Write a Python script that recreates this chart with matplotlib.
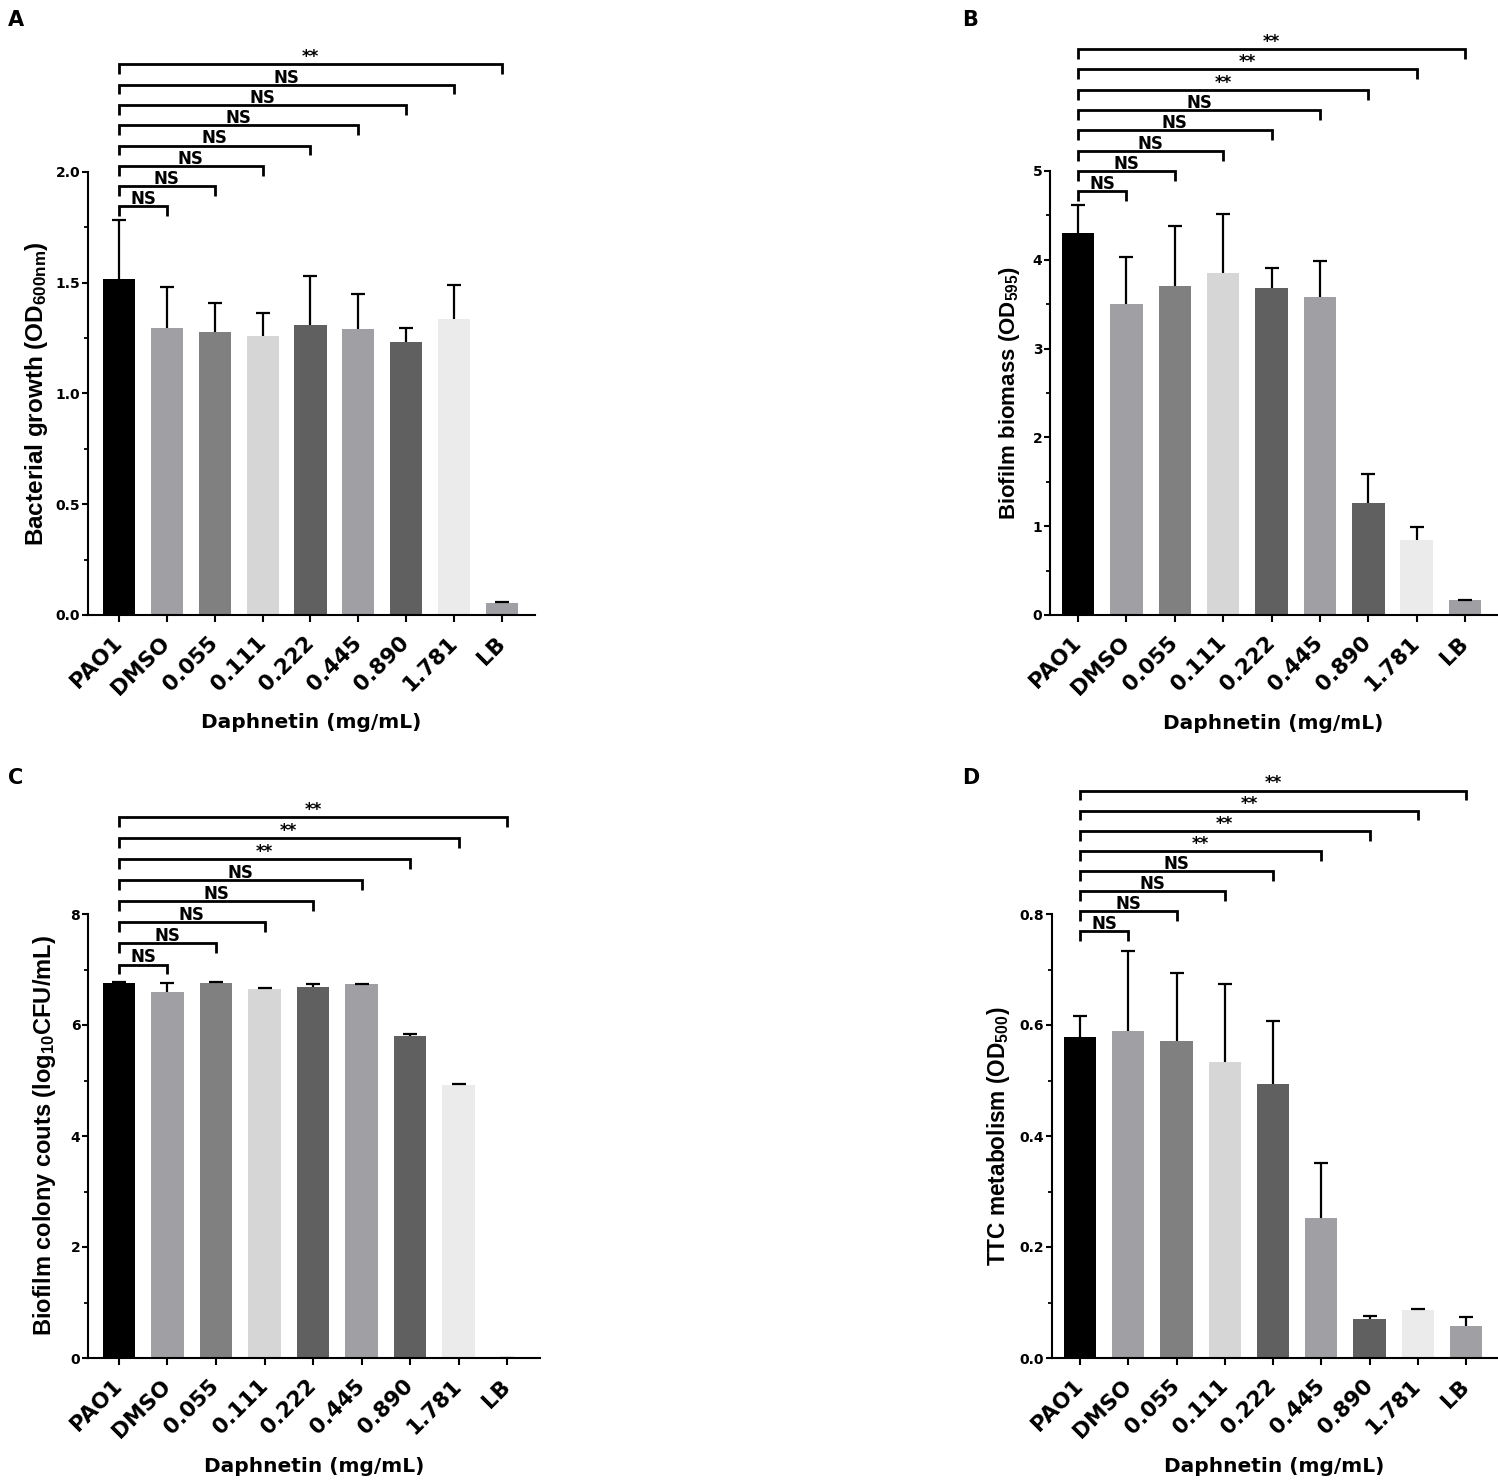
import matplotlib
matplotlib.use("Agg")
import matplotlib.pyplot as plt
from matplotlib.ticker import MultipleLocator, FormatStrFormatter

# categories shared by all four panels
groups = ["PAO1", "DMSO", "0.055", "0.111", "0.222", "0.445", "0.890", "1.781", "LB"]
bar_colors = ["#000000", "#a0a0a4", "#808080", "#d6d6d6", "#606060",
              "#a0a0a4", "#606060", "#ebebeb", "#a0a0a4"]

# A - bacterial growth
growth_mean = [1.518, 1.297, 1.278, 1.258, 1.310, 1.290, 1.233, 1.338, 0.056]
growth_sd = [0.265, 0.184, 0.130, 0.107, 0.221, 0.159, 0.062, 0.150, 0.002]
growth_sig = ["NS", "NS", "NS", "NS", "NS", "NS", "NS", "**"]

# B - biofilm biomass
biomass_mean = [4.303, 3.505, 3.707, 3.846, 3.686, 3.580, 1.261, 0.846, 0.165]
biomass_sd = [0.309, 0.532, 0.671, 0.665, 0.218, 0.404, 0.329, 0.149, 0.005]
biomass_sig = ["NS", "NS", "NS", "NS", "NS", "**", "**", "**"]

# C - biofilm colony counts
colony_mean = [6.763, 6.589, 6.763, 6.647, 6.689, 6.739, 5.809, 4.913, 0.0]
colony_sd = [0.005, 0.166, 0.010, 0.025, 0.041, 0.008, 0.033, 0.016, 0.0]
colony_sig = ["NS", "NS", "NS", "NS", "NS", "**", "**", "**"]

# D - TTC metabolism
ttc_mean = [0.579, 0.590, 0.572, 0.533, 0.493, 0.253, 0.071, 0.086, 0.057]
ttc_sd = [0.037, 0.143, 0.122, 0.140, 0.115, 0.099, 0.004, 0.003, 0.017]
ttc_sig = ["NS", "NS", "NS", "NS", "**", "**", "**", "**"]

W, H = 1498, 1484
BOLD = ["DejaVu Sans"]
LABEL_FONT = ["Liberation Sans", "DejaVu Sans"]

plt.rcParams["font.family"] = BOLD
plt.rcParams["font.weight"] = "bold"
plt.rcParams["mathtext.fontset"] = "custom"
plt.rcParams["mathtext.bf"] = "Liberation Sans:bold"
plt.rcParams["mathtext.rm"] = "Liberation Sans:bold"
plt.rcParams["mathtext.default"] = "bf"

fig = plt.figure(figsize=(W / 100, H / 100), dpi=100)


def px_axes(left, right, bottom, top):
    # axes rectangle given in pixel coordinates of the reference
    return fig.add_axes([left / W, 1 - bottom / H, (right - left) / W, (bottom - top) / H])


def draw_panel(ax, means, sds, sig, ymax, major, minor, fmt, xlim,
               ylabel, ylabel_size, ylabel_x, br_base, br_step):
    x = list(range(len(groups)))
    ax.bar(x, means, width=0.67, color=bar_colors, zorder=2)
    lower = [0] * len(sds)
    eb = ax.errorbar(x, means, yerr=[lower, sds], fmt="none", ecolor="black",
                     elinewidth=1.6, capsize=5, capthick=1.6, zorder=3)
    # only the upper cap is drawn (one-sided SD)
    eb[1][0].set_visible(False)

    ax.set_xlim(*xlim)
    ax.set_ylim(0, ymax)
    ax.yaxis.set_major_locator(MultipleLocator(major))
    ax.yaxis.set_minor_locator(MultipleLocator(minor))
    ax.yaxis.set_major_formatter(FormatStrFormatter(fmt))
    ax.set_xticks(x)
    ax.set_xticklabels(groups, rotation=45, ha="right", va="center",
                       rotation_mode="anchor", fontsize=15.5, fontweight="bold")
    for lab in ax.get_yticklabels():
        lab.set_fontsize(10)
        lab.set_fontweight("bold")

    for side in ["top", "right"]:
        ax.spines[side].set_visible(False)
    for side in ["left", "bottom"]:
        ax.spines[side].set_linewidth(1.5)
    ax.tick_params(axis="y", which="major", length=4, width=1.5, pad=1.5)
    ax.tick_params(axis="y", which="minor", length=3, width=1.3)
    ax.tick_params(axis="x", which="major", length=5, width=1.5, pad=13)

    ax.set_xlabel("Daphnetin (mg/mL)", fontsize=14.5, fontweight="bold")
    ax.xaxis.set_label_coords(0.5, -0.222)
    ax.set_ylabel(ylabel, fontsize=ylabel_size, fontweight="bold", family=LABEL_FONT)
    ax.yaxis.set_label_coords(ylabel_x, 0.5)

    # significance brackets, all starting at PAO1
    tick = ymax * 0.022
    for i, lab in enumerate(sig):
        j = i + 1
        y = br_base + i * br_step
        ax.plot([0, 0, j, j], [y - tick, y, y, y - tick], color="black", lw=2.0,
                clip_on=False, solid_joinstyle="miter", solid_capstyle="butt", zorder=4)
        ax.annotate(lab, xy=(j / 2, y), xytext=(0, 1.5), textcoords="offset points",
                    ha="center", va="baseline", fontsize=12, fontweight="bold",
                    annotation_clip=False)


axA = px_axes(88, 535, 615, 172)
draw_panel(axA, growth_mean, growth_sd, growth_sig, 2.0, 0.5, 0.25, "%.1f",
           (-0.648, 8.69), "Bacterial growth (OD$_{600nm}$)", 17.5, -0.085, 1.845, 0.0915)

axB = px_axes(1050, 1497, 615, 171)
draw_panel(axB, biomass_mean, biomass_sd, biomass_sig, 5, 1, 0.5, "%d",
           (-0.579, 8.66), "Biofilm biomass (OD$_{595}$)", 16, -0.063, 4.77, 0.229)

axC = px_axes(88, 540, 1358, 914)
draw_panel(axC, colony_mean, colony_sd, colony_sig, 8, 2, 1, "%d",
           (-0.639, 8.68), "Biofilm colony couts (log$_{10}$CFU/mL)", 17, -0.066, 7.09, 0.38)

axD = px_axes(1052, 1497, 1358, 914)
draw_panel(axD, ttc_mean, ttc_sd, ttc_sig, 0.8, 0.2, 0.1, "%.1f",
           (-0.58, 8.64), "TTC metabolism (OD$_{500}$)", 16.3, -0.09, 0.769, 0.0362)

# panel letters
for letter, px, py in [("A", 8, 10), ("B", 962, 10), ("C", 8, 768), ("D", 962, 768)]:
    fig.text(px / W, 1 - py / H, letter, fontsize=15, fontweight="bold", va="top", ha="left")

fig.savefig("out.png", dpi=100)
